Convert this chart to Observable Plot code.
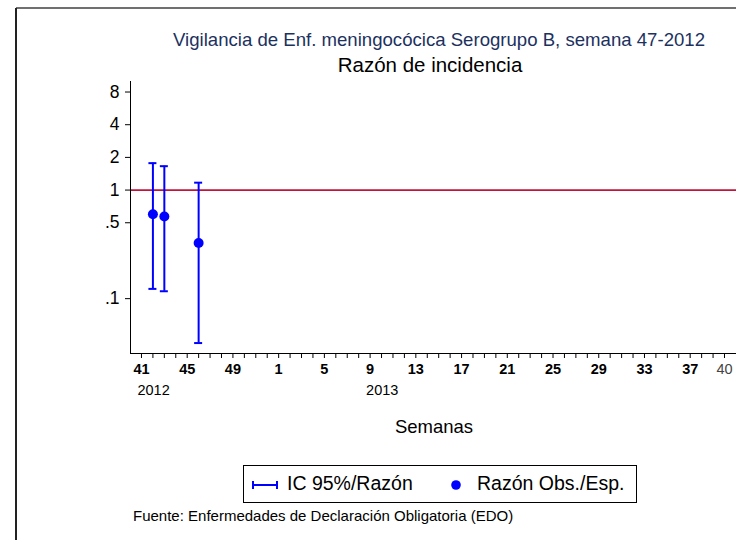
<!DOCTYPE html>
<html><head><meta charset="utf-8">
<script src="https://cdn.jsdelivr.net/npm/d3@7"></script>
<script src="https://cdn.jsdelivr.net/npm/@observablehq/plot@0.6"></script>
<style>
body{margin:0;background:#fff;font-family:Arial,"Liberation Sans",sans-serif;}
#wrap{position:relative;width:736px;height:540px;overflow:hidden;background:#fff}
#wrap svg.plot{position:absolute;left:0;top:0}
.t{position:absolute;white-space:nowrap;line-height:1}
#frameTop{position:absolute;left:16px;top:7px;width:720px;height:2px;background:#707070}
#frameLeft{position:absolute;left:15px;top:8px;width:2px;height:532px;background:#222}
#legend{position:absolute;left:243px;top:465px;width:392px;height:36px;border:1px solid #000;background:#fff}
</style></head><body><div id="wrap">
<div id="frameTop"></div><div id="frameLeft"></div>
<div class="t" id="title" style="left:439px;top:31px;transform:translateX(-50%);font-size:18.6px;color:#1c3160">Vigilancia de Enf. meningocócica Serogrupo B, semana 47-2012</div>
<div class="t" id="subtitle" style="left:430px;top:55px;transform:translateX(-50%);font-size:20.5px;color:#000">Razón de incidencia</div>
<div class="t" id="xtitle" style="left:434px;top:418px;transform:translateX(-50%);font-size:18.5px;color:#000">Semanas</div>
<div id="legend">
  <svg width="30" height="36" style="position:absolute;left:7px;top:0"><g stroke="blue" stroke-width="2"><line x1="2" y1="19" x2="26" y2="19"/><line x1="2" y1="15" x2="2" y2="23"/><line x1="26" y1="15" x2="26" y2="23"/></g></svg>
  <div class="t" style="left:43px;top:8px;font-size:19.5px">IC 95%/Razón</div>
  <svg width="14" height="36" style="position:absolute;left:205px;top:0"><circle cx="7" cy="19" r="4.8" fill="blue"/></svg>
  <div class="t" style="left:233px;top:8px;font-size:19.5px">Razón Obs./Esp.</div>
</div>
<div class="t" id="caption" style="left:133px;top:508px;font-size:15px;color:#000">Fuente: Enfermedades de Declaración Obligatoria (EDO)</div>
</div>
<script>
// Axis weeks: 2012 weeks 41-52, then 2013 weeks 1-40
const weeks2012 = [41,42,43,44,45,46,47,48,49,50,51,52];
const weeks2013 = [1,2,3,4,5,6,7,8,9,10,11,12,13,14,15,16,17,18,19,20,21,22,23,24,25,26,27,28,29,30,31,32,33,34,35,36,37,38,39,40];
const labeledWeeks = [41,45,49,1,5,9,13,17,21,25,29,33,37];
const labeledYears = [2012,2012,2012,2013,2013,2013,2013,2013,2013,2013,2013,2013,2013];
const lastWeekLabel = {year:2013, week:40};
const yearLabels = [{year:2012, week:41, text:"2012"},{year:2013, week:9, text:"2013"}];

// Observed data
const obsYear = [2012,2012,2012];
const obsWeek = [42,43,46];
const razon = [0.60,0.57,0.325];
const icInf = [0.123,0.117,0.039];
const icSup = [1.77,1.66,1.17];

const yTicks = [8,4,2,1,0.5,0.1];
const yTickLabels = ["8","4","2","1",".5",".1"];

const idx = (year, week) => year === 2012 ? weeks2012.indexOf(week) : weeks2012.length + weeks2013.indexOf(week);
const nWeeks = weeks2012.length + weeks2013.length;

const obs = obsWeek.map((w,i)=>({x: idx(obsYear[i], w), razon: razon[i], lo: icInf[i], hi: icSup[i]}));
const major = labeledWeeks.map((w,i)=>({x: idx(labeledYears[i], w), label: String(w)}));
const last = [{x: idx(lastWeekLabel.year, lastWeekLabel.week), label: String(lastWeekLabel.week)}];
const years = yearLabels.map(d=>({x: idx(d.year, d.week), label: d.text}));
const yLab = yTicks.map((v,i)=>({y: v, label: yTickLabels[i]}));

const xDomain = [-0.96, nWeeks + 0.05];
const yDomain = [1/32, 10];
const capHalf = 0.35;

const chart = Plot.plot({
  width: 736, height: 540,
  marginTop: 81, marginBottom: 187, marginLeft: 130, marginRight: 0,
  x: {domain: xDomain},
  y: {type: "log", domain: yDomain},
  style: {fontFamily: "Arial, 'Liberation Sans', sans-serif", background: "transparent", color: "#000"},
  marks: [
    Plot.ruleY([1], {stroke: "#c0143c", strokeWidth: 1.6}),
    Plot.ruleX([xDomain[0]], {stroke: "#000", strokeWidth: 1}),
    Plot.ruleY([yDomain[0]], {stroke: "#000", strokeWidth: 1}),
    Plot.axisY({ticks: yTicks, tickFormat: () => "", tickSize: 5, stroke: "#000", label: null}),
    Plot.text(yLab, {y: "y", text: "label", frameAnchor: "left", dx: -11, textAnchor: "end", fontSize: 17.5, fill: "#000"}),
    Plot.axisX({ticks: d3.range(nWeeks), tickFormat: () => "", tickSize: 5, stroke: "#000", label: null}),
    Plot.text(major, {x: "x", text: "label", frameAnchor: "bottom", dy: 20, fontWeight: "bold", fontSize: 14.5, fill: "#000"}),
    Plot.text(last, {x: "x", text: "label", frameAnchor: "bottom", dy: 20, fontSize: 14.5, fill: "#444"}),
    Plot.text(years, {x: "x", text: "label", frameAnchor: "bottom", dy: 41, dx: -4, textAnchor: "start", fontSize: 14.5, fill: "#000"}),
    Plot.ruleX(obs, {x: "x", y1: "lo", y2: "hi", stroke: "blue", strokeWidth: 2}),
    Plot.ruleY(obs, {y: "lo", x1: d => d.x - capHalf, x2: d => d.x + capHalf, stroke: "blue", strokeWidth: 2}),
    Plot.ruleY(obs, {y: "hi", x1: d => d.x - capHalf, x2: d => d.x + capHalf, stroke: "blue", strokeWidth: 2}),
    Plot.dot(obs, {x: "x", y: "razon", r: 5, fill: "blue", stroke: "none"})
  ]
});
chart.classList.add("plot");
document.getElementById("wrap").appendChild(chart);
</script>
</body></html>
